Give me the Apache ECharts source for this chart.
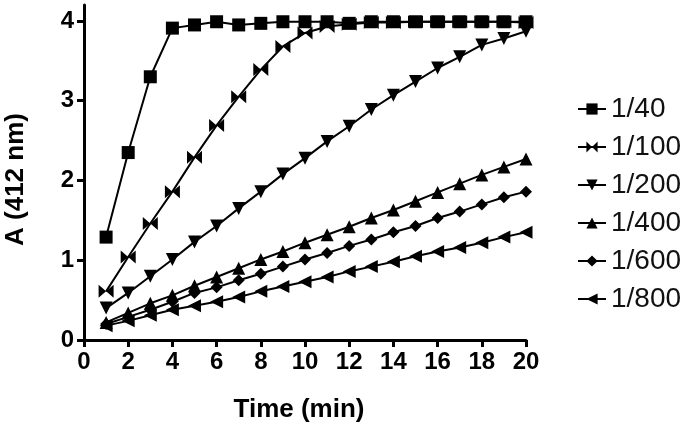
<!DOCTYPE html>
<html>
<head>
<meta charset="utf-8">
<script src="https://cdn.jsdelivr.net/npm/echarts@6/dist/echarts.min.js"></script>
<style>
  html, body { margin: 0; padding: 0; background: #fff; }
  #chart { width: 686px; height: 431px; }
</style>
</head>
<body>
<div id="chart"></div>
<script>
// time points (min)
const times = [1, 2, 3, 4, 5, 6, 7, 8, 9, 10, 11, 12, 13, 14, 15, 16, 17, 18, 19, 20];

// absorbance at 412 nm for each dilution
const d40  = [1.29, 2.35, 3.30, 3.91, 3.95, 3.99, 3.95, 3.97, 3.99, 3.99, 3.99, 3.97, 3.99, 3.99, 3.99, 3.99, 3.99, 3.99, 3.99, 3.99];
const d100 = [0.61, 1.04, 1.46, 1.86, 2.29, 2.69, 3.05, 3.39, 3.68, 3.85, 3.93, 3.96, 3.98, 3.98, 3.99, 3.99, 3.99, 3.99, 3.99, 3.98];
const d200 = [0.40, 0.59, 0.80, 1.01, 1.23, 1.43, 1.65, 1.86, 2.08, 2.28, 2.49, 2.68, 2.89, 3.07, 3.24, 3.41, 3.55, 3.70, 3.78, 3.87];
const d400 = [0.22, 0.34, 0.46, 0.56, 0.68, 0.79, 0.90, 1.01, 1.11, 1.22, 1.32, 1.42, 1.53, 1.63, 1.74, 1.85, 1.96, 2.07, 2.17, 2.27];
const d600 = [0.20, 0.29, 0.38, 0.48, 0.59, 0.66, 0.75, 0.83, 0.92, 1.01, 1.09, 1.18, 1.26, 1.35, 1.43, 1.53, 1.61, 1.70, 1.79, 1.86];
const d800 = [0.18, 0.24, 0.31, 0.38, 0.43, 0.48, 0.54, 0.61, 0.67, 0.73, 0.79, 0.86, 0.92, 0.98, 1.05, 1.11, 1.16, 1.22, 1.29, 1.35];

const names = ['1/40', '1/100', '1/200', '1/400', '1/600', '1/800'];
const yTicks = [0, 1, 2, 3, 4];

const pairs = arr => arr.map((v, i) => [times[i], v]);

const bowtie = 'path://M0,0 L10,5 L0,10 Z M20,0 L10,5 L20,10 Z';
const leftTri = 'path://M0,5 L10,0 L10,10 Z';
const font = 'Liberation Sans, Arial';

function mkSeries(name, data, symbol, size, rotate) {
    return {
        name: name,
        type: 'line',
        data: pairs(data),
        symbol: symbol,
        symbolSize: size,
        symbolRotate: rotate || 0,
        showSymbol: true,
        itemStyle: { color: '#000' },
        lineStyle: { color: '#000', width: 2 },
        z: 2
    };
}

const chart = echarts.init(document.getElementById('chart'));
chart.setOption({
    animation: false,
    backgroundColor: '#fff',
    grid: { left: 84, right: 160, top: 5, bottom: 91, containLabel: false, outerBoundsMode: 'none' },
    legend: {
        orient: 'vertical',
        left: 572,
        top: 90,
        itemWidth: 28,
        itemHeight: 14,
        itemGap: 10,
        data: names,
        textStyle: { fontFamily: font, fontSize: 28, color: '#111' }
    },
    xAxis: {
        type: 'value',
        min: 0,
        max: 20,
        interval: 2,
        name: 'Time (min)',
        nameLocation: 'middle',
        nameGap: 57,
        nameTextStyle: { fontFamily: font, fontSize: 26, fontWeight: 'bold', color: '#000', padding: [0, 12, 0, 0] },
        axisLine: { lineStyle: { color: '#000', width: 3 } },
        axisTick: { inside: false, length: 7, lineStyle: { color: '#000', width: 3 } },
        axisLabel: { fontFamily: font, fontSize: 24, fontWeight: 'bold', color: '#000', margin: 10 },
        splitLine: { show: false }
    },
    yAxis: {
        type: 'value',
        min: 0,
        max: 4.2,
        name: 'A (412 nm)',
        nameLocation: 'middle',
        nameRotate: 90,
        nameGap: 55,
        nameTextStyle: { fontFamily: font, fontSize: 26, fontWeight: 'bold', color: '#000', padding: [0, 14, 0, 0] },
        axisLine: { show: true, lineStyle: { color: '#000', width: 3 } },
        axisTick: { show: true, length: 7, customValues: yTicks, lineStyle: { color: '#000', width: 3 } },
        axisLabel: { customValues: yTicks, fontFamily: font, fontSize: 24, fontWeight: 'bold', color: '#000', margin: 10 },
        splitLine: { show: false }
    },
    series: [
        mkSeries(names[0], d40, 'rect', 13),
        mkSeries(names[1], d100, bowtie, [15, 13]),
        mkSeries(names[2], d200, 'triangle', 13, 180),
        mkSeries(names[3], d400, 'triangle', 13),
        mkSeries(names[4], d600, 'diamond', 12),
        mkSeries(names[5], d800, leftTri, 13)
    ]
});
</script>
</body>
</html>
